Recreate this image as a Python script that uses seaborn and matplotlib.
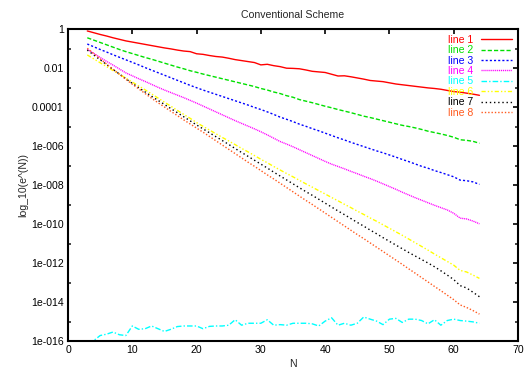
import numpy as np
import pandas as pd
import matplotlib
matplotlib.use("Agg")
import matplotlib.pyplot as plt
import seaborn as sns
from matplotlib.ticker import NullFormatter

# --------------------------------------------------------------
# Data: log10 of the error, N = 3..64
# --------------------------------------------------------------
n_values = list(range(3, 65))

line1_log = [-0.10, -0.19, -0.28, -0.36, -0.45, -0.53, -0.61, -0.67, -0.73, -0.79,
             -0.85, -0.91, -0.97, -1.02, -1.08, -1.13, -1.16, -1.27, -1.30, -1.36,
             -1.41, -1.44, -1.50, -1.57, -1.62, -1.67, -1.72, -1.84, -1.81, -1.88,
             -1.93, -2.01, -2.02, -2.04, -2.10, -2.17, -2.20, -2.23, -2.32, -2.41,
             -2.40, -2.45, -2.51, -2.57, -2.64, -2.67, -2.70, -2.76, -2.82, -2.86,
             -2.90, -2.94, -2.98, -3.02, -3.05, -3.09, -3.15, -3.21, -3.24, -3.29,
             -3.34, -3.40]

line2_log = [-0.45, -0.57, -0.69, -0.81, -0.93, -1.05, -1.16, -1.26, -1.36, -1.46,
             -1.55, -1.65, -1.75, -1.85, -1.95, -2.04, -2.14, -2.22, -2.31, -2.39,
             -2.47, -2.55, -2.63, -2.71, -2.79, -2.87, -2.95, -3.05, -3.13, -3.23,
             -3.31, -3.42, -3.50, -3.62, -3.70, -3.78, -3.87, -3.96, -4.04, -4.13,
             -4.21, -4.29, -4.38, -4.47, -4.54, -4.62, -4.70, -4.78, -4.86, -4.94,
             -5.00, -5.07, -5.15, -5.24, -5.31, -5.38, -5.46, -5.55, -5.68, -5.71,
             -5.76, -5.86]

line3_log = [-0.77, -0.91, -1.05, -1.18, -1.32, -1.45, -1.58, -1.71, -1.84, -1.98,
             -2.11, -2.24, -2.37, -2.50, -2.63, -2.76, -2.89, -3.01, -3.13, -3.24,
             -3.35, -3.46, -3.57, -3.68, -3.79, -3.90, -4.02, -4.13, -4.25, -4.38,
             -4.52, -4.63, -4.75, -4.88, -4.99, -5.11, -5.22, -5.34, -5.46, -5.58,
             -5.69, -5.81, -5.92, -6.03, -6.14, -6.25, -6.35, -6.46, -6.57, -6.69,
             -6.80, -6.92, -7.04, -7.14, -7.26, -7.36, -7.47, -7.58, -7.75, -7.78,
             -7.84, -7.97]

line4_log = [-1.04, -1.25, -1.46, -1.66, -1.85, -2.05, -2.25, -2.40, -2.55, -2.69,
             -2.84, -2.99, -3.13, -3.26, -3.39, -3.52, -3.66, -3.80, -3.95, -4.10,
             -4.25, -4.40, -4.55, -4.70, -4.84, -4.98, -5.12, -5.27, -5.43, -5.60,
             -5.77, -5.90, -6.04, -6.19, -6.34, -6.49, -6.64, -6.79, -6.93, -7.05,
             -7.17, -7.30, -7.42, -7.55, -7.67, -7.80, -7.94, -8.08, -8.22, -8.37,
             -8.51, -8.65, -8.78, -8.91, -9.04, -9.16, -9.28, -9.45, -9.70, -9.74,
             -9.85, -9.99]

line5_log = [-16.00, -15.98, -15.72, -15.65, -15.54, -15.68, -15.72, -15.23, -15.40, -15.37,
             -15.23, -15.37, -15.51, -15.40, -15.26, -15.23, -15.23, -15.23, -15.37, -15.25,
             -15.23, -15.23, -15.19, -14.91, -15.19, -15.09, -15.09, -15.09, -14.91, -15.19,
             -15.16, -15.19, -15.09, -15.09, -15.09, -15.12, -15.23, -14.98, -14.81, -15.19,
             -15.09, -15.19, -15.09, -14.77, -14.88, -14.98, -15.16, -14.88, -14.84, -15.05,
             -14.88, -14.88, -14.95, -15.12, -14.91, -15.19, -14.95, -14.88, -14.95, -14.98,
             -15.02, -15.09]

line6_log = [-1.33, -1.53, -1.73, -1.93, -2.13, -2.32, -2.52, -2.72, -2.92, -3.12,
             -3.33, -3.54, -3.75, -3.96, -4.17, -4.38, -4.58, -4.80, -4.99, -5.18,
             -5.37, -5.56, -5.74, -5.93, -6.12, -6.30, -6.49, -6.68, -6.86, -7.05,
             -7.23, -7.41, -7.58, -7.76, -7.94, -8.11, -8.29, -8.46, -8.64, -8.81,
             -8.99, -9.16, -9.34, -9.51, -9.69, -9.86, -10.04, -10.22, -10.40, -10.58,
             -10.77, -10.96, -11.15, -11.34, -11.54, -11.73, -11.92, -12.11, -12.38, -12.46,
             -12.62, -12.79]

line7_log = [-1.08, -1.33, -1.58, -1.82, -2.07, -2.31, -2.55, -2.79, -3.01, -3.23,
             -3.45, -3.66, -3.87, -4.08, -4.29, -4.50, -4.71, -4.92, -5.12, -5.32,
             -5.52, -5.72, -5.92, -6.13, -6.33, -6.53, -6.73, -6.93, -7.13, -7.34,
             -7.54, -7.74, -7.94, -8.14, -8.34, -8.53, -8.73, -8.93, -9.13, -9.33,
             -9.52, -9.72, -9.92, -10.11, -10.31, -10.50, -10.70, -10.89, -11.08, -11.27,
             -11.46, -11.64, -11.82, -12.00, -12.19, -12.40, -12.62, -12.85, -13.16, -13.28,
             -13.50, -13.73]

line8_log = [-0.99, -1.26, -1.53, -1.80, -2.06, -2.32, -2.58, -2.83, -3.07, -3.31,
             -3.55, -3.78, -4.00, -4.22, -4.44, -4.66, -4.87, -5.08, -5.29, -5.51,
             -5.73, -5.95, -6.17, -6.39, -6.61, -6.83, -7.04, -7.26, -7.48, -7.69,
             -7.91, -8.13, -8.35, -8.57, -8.79, -9.00, -9.22, -9.44, -9.66, -9.88,
             -10.10, -10.32, -10.54, -10.75, -10.97, -11.19, -11.41, -11.63, -11.85, -12.07,
             -12.30, -12.52, -12.75, -12.97, -13.20, -13.42, -13.65, -13.88, -14.15, -14.28,
             -14.44, -14.62]

line_labels = ["line 1", "line 2", "line 3", "line 4", "line 5", "line 6", "line 7", "line 8"]
x_ticks = [0, 10, 20, 30, 40, 50, 60, 70]
y_major_exp = [0, -2, -4, -6, -8, -10, -12, -14, -16]
y_major_labels = ["1", "0.01", "0.0001", "1e-006", "1e-008", "1e-010", "1e-012", "1e-014", "1e-016"]
y_minor_exp = [-1, -3, -5, -7, -9, -11, -13, -15]

# --------------------------------------------------------------
# Styles (gnuplot-like)
# --------------------------------------------------------------
colors = ["#ff0000", "#00e000", "#0000ff", "#ff00ff", "#00ffff", "#ffff00", "#000000", "#ff5a1e"]
dashes = ["-", (0, (3, 1.5)), (0, (1.5, 1.5)), (0, (0.8, 0.6)),
          (0, (4, 1.5, 1, 1.5)), (0, (3, 1.5, 1, 1.5, 1, 1.5)), (0, (1, 2)), (0, (1, 1.4))]

sns.set_style("white")
plt.rcParams["font.family"] = ["Liberation Sans", "DejaVu Sans"]
plt.rcParams["font.size"] = 7.6

fig = plt.figure(figsize=(5.24, 3.71), dpi=100)
ax = fig.add_axes([68 / 524, 1 - 341 / 371, 450 / 524, 312 / 371])

all_logs = [line1_log, line2_log, line3_log, line4_log,
            line5_log, line6_log, line7_log, line8_log]
for logs, lab, col, ls in zip(all_logs, line_labels, colors, dashes):
    df = pd.DataFrame({"N": n_values, "err": 10.0 ** np.array(logs)})
    sns.lineplot(data=df, x="N", y="err", ax=ax, color=col, linestyle=ls,
                 linewidth=1.0, label=lab)

ax.set_yscale("log")
ax.set_xlim(0, 70)
ax.set_ylim(1e-16, 1)
ax.set_xticks(x_ticks)
ax.set_xticklabels([str(t) for t in x_ticks])
ax.set_yticks([10.0 ** e for e in y_major_exp])
ax.set_yticklabels(y_major_labels)
ax.set_yticks([10.0 ** e for e in y_minor_exp], minor=True)
ax.yaxis.set_minor_formatter(NullFormatter())

ax.tick_params(axis="both", which="major", direction="in", length=3.5, width=1.2,
               top=True, right=True, labelsize=7.6, pad=3, colors="black")
ax.tick_params(axis="y", which="minor", direction="in", length=2.5, width=1.2,
               left=True, right=True)
for sp in ax.spines.values():
    sp.set_linewidth(1.5)
    sp.set_color("black")

ax.set_title("Conventional Scheme", fontsize=7.6, pad=8)
ax.set_xlabel("N", fontsize=7.6, labelpad=3)
ax.set_ylabel("log_10(e^(N))", fontsize=7.6, labelpad=2)

leg = ax.legend(loc="upper right", frameon=False, markerfirst=False, fontsize=7.6,
                handlelength=3.0, handletextpad=0.7, labelspacing=0.04,
                borderaxespad=0.15)
for txt, ln in zip(leg.get_texts(), leg.get_lines()):
    txt.set_color(ln.get_color())

fig.savefig("out.png", dpi=100)
